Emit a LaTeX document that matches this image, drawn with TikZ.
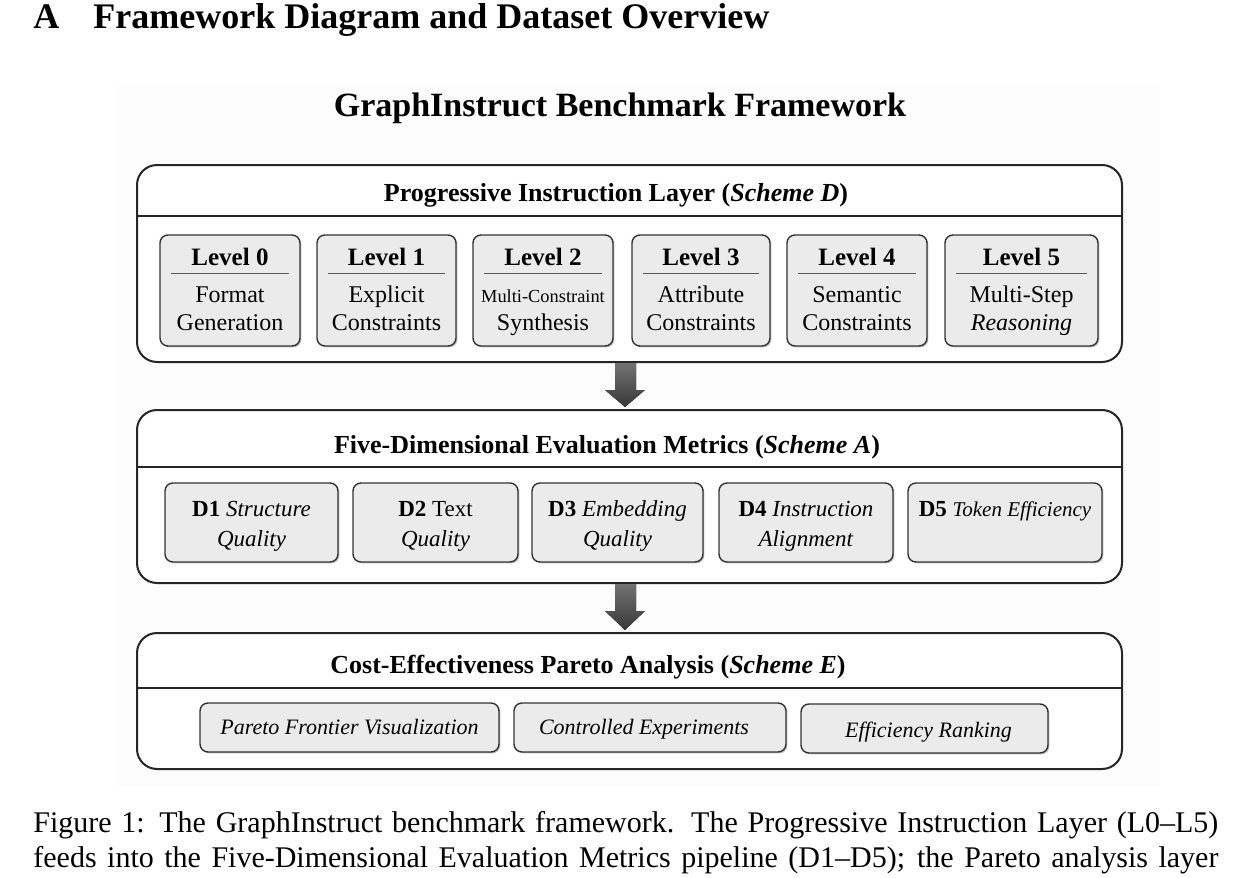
\documentclass[tikz,border=0pt]{standalone}
\usepackage{fontspec}
\setmainfont{Liberation Serif}
\usetikzlibrary{calc,fit,shadows}
\newcommand{\myfs}[1]{\fontsize{#1pt}{#1pt}\selectfont}
\begin{document}
\begin{tikzpicture}[x=0.5pt,y=-0.5pt,
  layer/.style={draw=black!85, line width=1pt, rounded corners=10pt, fill=white, inner sep=0pt},
  sepline/.style={draw=black!85, line width=1pt},
  sub/.style={draw=black!80, line width=0.7pt, rounded corners=4pt, fill=black!8, inner sep=0pt,
    drop shadow={shadow xshift=0.7pt, shadow yshift=-0.7pt, fill=black, opacity=0.25}},
  divider/.style={draw=black!65, line width=0.6pt},
  lvtitle/.style={anchor=base, inner sep=0pt, font=\bfseries\myfs{12.5}},
  body/.style={anchor=base, inner sep=0pt, font=\myfs{12}},
  dbody/.style={anchor=base, inner sep=0pt, font=\myfs{11.5}},
  pbody/.style={anchor=base, inner sep=0pt, font=\itshape\myfs{11}},
  header/.style={anchor=base, inner sep=0pt, font=\bfseries\myfs{13}},
  arrowfill/.style={top color=black!55, bottom color=black!78, draw=none}
]
\useasboundingbox (0,0) rectangle (1250,878);
\fill[black!1] (116,84) rectangle (1160,786);

% heading
\node[anchor=base west, inner sep=0pt, font=\bfseries\myfs{18}] (secA) at (33,28) {A};
\node[anchor=base west, inner sep=0pt, font=\bfseries\myfs{18}] (secT) at (93,28) {Framework Diagram and Dataset Overview};

% title
\node[anchor=base, inner sep=0pt, font=\bfseries\myfs{17}] (title) at (620,116) {GraphInstruct Benchmark Framework};

% layers
\node[layer, fit={(137,165) (1122,362)}] (L1) {};
\draw[sepline] ($(L1.north west)+(0,52)$) -- ($(L1.north east)+(0,52)$);
\node[header] (h1) at (616,201) {Progressive Instruction Layer (\textit{Scheme D})};

\node[layer, fit={(137,410) (1122,583)}] (L2) {};
\draw[sepline] ($(L2.north west)+(0,58)$) -- ($(L2.north east)+(0,58)$);
\node[header] (h2) at (607,453) {Five-Dimensional Evaluation Metrics (\textit{Scheme A})};

\node[layer, fit={(137,633) (1122,769)}] (L3) {};
\draw[sepline] ($(L3.north west)+(0,56)$) -- ($(L3.north east)+(0,56)$);
\node[header] (h3) at (588,673) {Cost-Effectiveness Pareto Analysis (\textit{Scheme E})};

% level boxes
\foreach \n/\xa/\xb/\la/\lb in {
  0/160/300/Format/Generation,
  1/317/456/Explicit/Constraints,
  2/473/613/{\myfs{9.2}Multi-Constraint}/Synthesis,
  3/632/770/Attribute/Constraints,
  4/787/927/Semantic/Constraints,
  5/945/1098/Multi-Step/{\itshape Reasoning}}
{
  \node[sub, fit={(\xa,235) (\xb,346)}] (lv\n) {};
  \node[lvtitle] (lvt\n) at ($(lv\n.north)+(0,31)$) {Level \n};
  \draw[divider] ($(lv\n.north west)+(12,39)$) -- ($(lv\n.north east)+(-12,39)$);
  \node[body] (lva\n) at ($(lv\n.north)+(0,68)$) {\la};
  \node[body] (lvb\n) at ($(lv\n.north)+(0,96)$) {\lb};
}

% dimension boxes
\foreach \n/\xa/\xb/\la/\lb in {
  1/165/338/{\textbf{D1} \textit{Structure}}/{\textit{Quality}},
  2/353/518/{\textbf{D2} Text}/{\textit{Quality}},
  3/532/703/{\textbf{D3} \textit{Embedding}}/{\textit{Quality}},
  4/719/893/{\textbf{D4} \textit{Instruction}}/{\textit{Alignment}},
  5/908/1102/{\textbf{D5} {\myfs{10.5}\textit{Token Efficiency}}}/{}}
{
  \node[sub, fit={(\xa,483) (\xb,562)}] (d\n) {};
  \node[dbody] (da\n) at ($(d\n.north)+(0,34)$) {\la};
  \node[dbody] (db\n) at ($(d\n.north)+(0,64)$) {\lb};
}

% pareto boxes
\node[sub, fit={(200,703) (499,752)}] (p1) {};
\node[pbody] (pt1) at ($(p1.north)+(0,32)$) {Pareto Frontier Visualization};
\node[sub, fit={(514,703) (786,752)}] (p2) {};
\node[pbody] (pt2) at ($(p2.north)+(-6,32)$) {Controlled Experiments};
\node[sub, fit={(801,704) (1048,753)}] (p3) {};
\node[pbody] (pt3) at ($(p3.north)+(4,34)$) {Efficiency Ranking};

% arrows
\fill[arrowfill] ($(L1.south)+(-14.5,0)$) -- ($(L1.south)+(6.5,0)$) -- ($(L1.south)+(6.5,27)$)
  -- ($(L1.south)+(15.5,27)$) -- ($(L2.north)+(-4.5,-2)$) -- ($(L1.south)+(-24.5,27)$)
  -- ($(L1.south)+(-14.5,27)$) -- cycle;
\fill[arrowfill] ($(L2.south)+(-14.5,0)$) -- ($(L2.south)+(6.5,0)$) -- ($(L2.south)+(6.5,27)$)
  -- ($(L2.south)+(15.5,27)$) -- ($(L3.north)+(-4.5,-2)$) -- ($(L2.south)+(-24.5,27)$)
  -- ($(L2.south)+(-14.5,27)$) -- cycle;

% caption
\node[anchor=base west, inner sep=0pt, font=\myfs{15}] (cap1) at (33,832)
  {\makebox[592.5pt][s]{Figure 1: The GraphInstruct benchmark framework. The Progressive Instruction Layer (L0--L5)}};
\node[anchor=base west, inner sep=0pt, font=\myfs{15}] (cap2) at (33,867)
  {\makebox[592.5pt][s]{feeds into the Five-Dimensional Evaluation Metrics pipeline (D1--D5); the Pareto analysis layer}};
\end{tikzpicture}
\end{document}
